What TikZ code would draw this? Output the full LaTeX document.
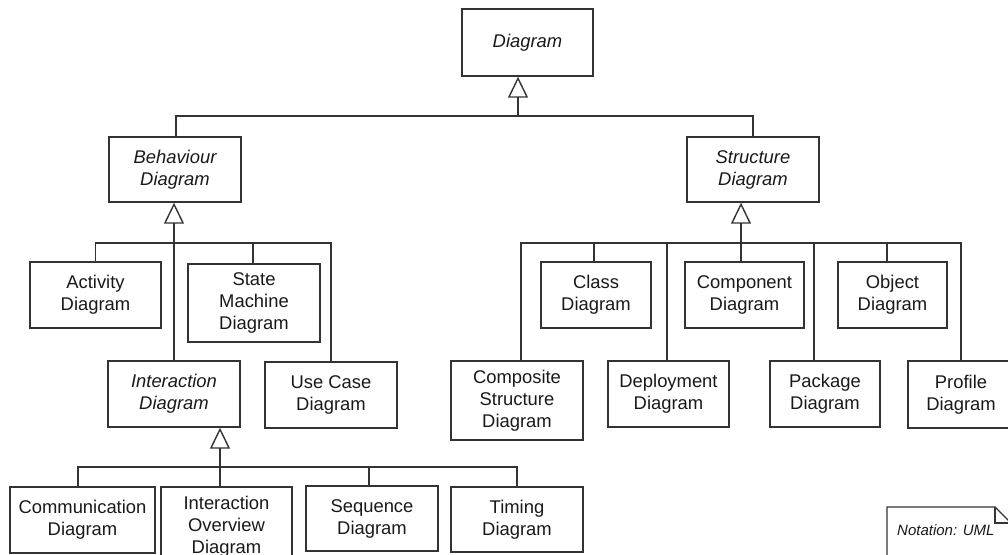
\documentclass[tikz,border=0pt]{standalone}
\usepackage{fontspec}
\setmainfont{Liberation Sans}
\usetikzlibrary{arrows.meta}

\begin{document}
\begin{tikzpicture}[x=1pt, y=-1pt,
    box/.style={draw=black!80, line width=1.4pt, align=center, inner sep=0pt,
        text=black!90, font=\fontsize{18.4}{22}\selectfont},
    abstract/.style={box, font=\fontsize{18.4}{22}\selectfont\itshape},
    wh/.style 2 args={minimum width=#1, minimum height=#2},
    link/.style={draw=black!80, line width=1.4pt},
    gen/.style={link, -{Triangle[open, length=21pt, width=20pt, line width=1.4pt]}}]
    \useasboundingbox (0,0) rectangle (1008,554);
    \clip (0,0) rectangle (1008,554);

    % root
    \node[abstract, wh={131}{67}] (diagram) at (527.5,42.5) {Diagram};

    % the two main kinds
    \node[abstract, wh={132}{65}] (behaviour) at (175,169.5) {Behaviour\\Diagram};
    \node[abstract, wh={132}{65}] (structure) at (753,169.5) {Structure\\Diagram};

    % behaviour diagrams
    \node[box, wh={131}{66}] (activity) at (95.5,295) {Activity\\Diagram};
    \node[box, wh={132}{78}] (statemachine) at (254,303) {State\\Machine\\Diagram};
    \node[abstract, wh={132}{66}] (interaction) at (174,394) {Interaction\\Diagram};
    \node[box, wh={132}{66}] (usecase) at (331,395) {Use Case\\Diagram};

    % interaction diagrams
    \node[box, wh={145}{66}] (communication) at (82.5,520) {Communication\\Diagram};
    \node[box, wh={131}{80}] (overview) at (226.5,527) {Interaction\\Overview\\Diagram};
    \node[box, wh={132}{65}] (sequence) at (372,518.5) {Sequence\\Diagram};
    \node[box, wh={132}{65}] (timing) at (517,519.5) {Timing\\Diagram};

    % structure diagrams
    \node[box, wh={110}{66}] (class) at (596,295) {Class\\Diagram};
    \node[box, wh={119}{66}] (component) at (744.5,295) {Component\\Diagram};
    \node[box, wh={109}{66}] (object) at (892.5,295) {Object\\Diagram};
    \node[box, wh={132}{79}] (composite) at (517,400.5) {Composite\\Structure\\Diagram};
    \node[box, wh={121}{66}] (deployment) at (668.5,394) {Deployment\\Diagram};
    \node[box, wh={110}{66}] (package) at (825,394) {Package\\Diagram};
    \node[box, wh={106}{67}] (profile) at (961,394.5) {Profile\\Diagram};

    % generalization: top level
    \coordinate (topbar) at (518,116);
    \draw[gen] (topbar) -- (topbar |- diagram.south);
    \draw[link] ([xshift=1]behaviour.north) |- (topbar) -| (structure.north);

    % generalization: behaviour
    \coordinate (bbar) at (174,243);
    \draw[gen] (bbar) -- (bbar |- behaviour.south);
    \draw[link] (activity.north) |- (usecase.north |- bbar) -- (usecase.north);
    \draw[link] (bbar) -- (interaction.north);
    \draw[link] ([xshift=-1]statemachine.north) -- ([xshift=-1]statemachine.north |- bbar);

    % generalization: interaction
    \coordinate (ibar) at (220,467);
    \draw[gen] (ibar) -- (ibar |- interaction.south);
    \draw[link] ([xshift=-4.5]communication.north) |- (timing.north |- ibar) -- (timing.north);
    \draw[link] (ibar) -- (ibar |- overview.north);
    \draw[link] ([xshift=-3]sequence.north) -- ([xshift=-3]sequence.north |- ibar);

    % generalization: structure
    \coordinate (sbar) at (741,243);
    \draw[gen] (sbar) -- (sbar |- structure.south);
    \draw[link] ([xshift=4]composite.north) |- (profile.north |- sbar) -- (profile.north);
    \draw[link] (sbar) -- (sbar |- component.north);
    \draw[link] ([xshift=-2]class.north) -- ([xshift=-2]class.north |- sbar);
    \draw[link] ([xshift=-1.5]deployment.north) -- ([xshift=-1.5]deployment.north |- sbar);
    \draw[link] ([xshift=-11]package.north) -- ([xshift=-11]package.north |- sbar);
    \draw[link] ([xshift=-5.5]object.north) -- ([xshift=-5.5]object.north |- sbar);

    % notation note
    \draw[link] (887,560) -- (887,507) -- (995,507) -- (1011,523) -- (1011,560) -- cycle;
    \draw[link] (995,507) -- (995,523) -- (1011,523);
    \node[anchor=base west, inner sep=0pt, text=black!90,
        font=\fontsize{15}{18}\selectfont\itshape] (note) at (897,535) {Notation: UML};
\end{tikzpicture}
\end{document}
